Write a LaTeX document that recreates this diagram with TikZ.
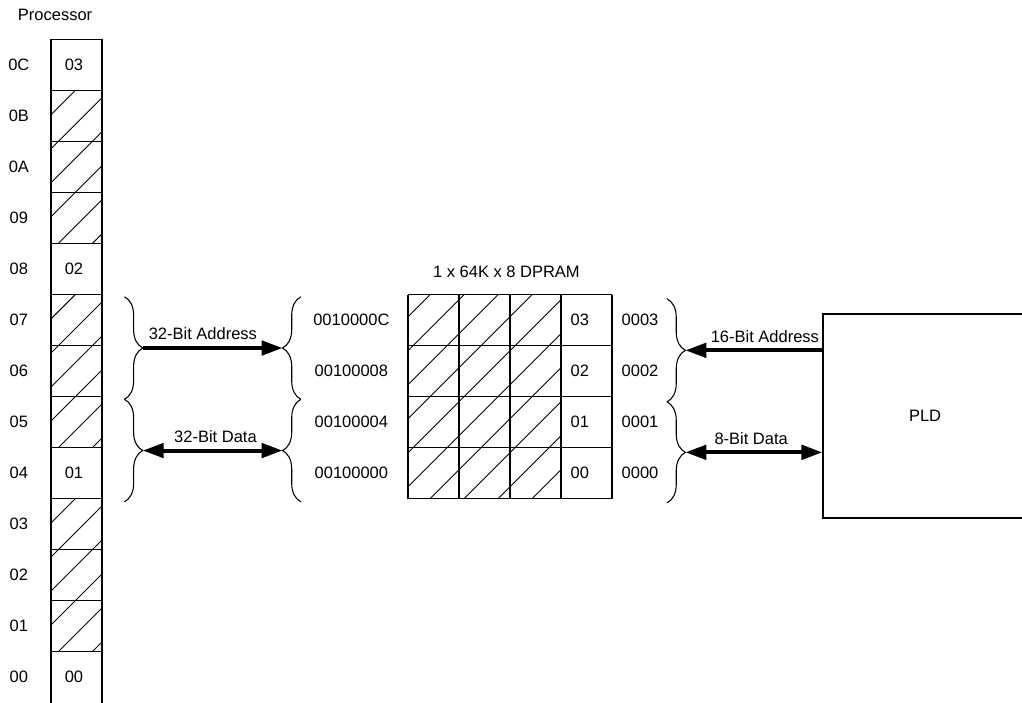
\documentclass[tikz,border=0pt]{standalone}
\usepackage{fontspec}
\setmainfont{Liberation Sans}
\usetikzlibrary{arrows.meta,decorations.pathreplacing}

\tikzset{
	frame/.style={line width=0.8pt},
	hatch/.style={line width=0.5pt},
	curly/.style={decorate, decoration={brace, amplitude=0.36cm}, line width=0.6pt},
	bus/.style={line width=2.2pt, -{Triangle[length=4.1mm, width=2.8mm]}},
	dbus/.style={bus, {Triangle[length=4.1mm, width=2.8mm]}-{Triangle[length=4.1mm, width=2.8mm]}},
}

\begin{document}
\begin{tikzpicture}[font=\fontsize{9.2}{11}\selectfont]
	\useasboundingbox (0,0) rectangle (20.04,13.78);

	% processor memory column
	\begin{scope}
		\clip (1,1) rectangle (2,4) (1,5) rectangle (2,8) (1,9) rectangle (2,12);
		\foreach \y in {0.19,0.857,...,12} \draw[hatch] (1,\y) -- ++(1,1);
	\end{scope}
	\draw[frame] (1,-0.2) -- (1,13) -- (2,13) -- (2,-0.2);
	\foreach \r in {1,...,12} \draw[frame] (1,\r) -- (2,\r);
	\foreach \r/\a in {0/00,1/01,2/02,3/03,4/04,5/05,6/06,7/07,8/08,9/09,10/0A,11/0B,12/0C}
		\node (addr\r) at (0.37,\r+0.5) {\a};
	\node at (1.08,13.49) (proc) {Processor};
	\node at (1.45,12.5) (byte3) {03};
	\node at (1.45,8.5) (byte2) {02};
	\node at (1.45,4.5) (byte1) {01};
	\node at (1.45,0.5) (byte0) {00};

	% DPRAM block
	\begin{scope}
		\clip (8,4) rectangle (11,8);
		\foreach \y in {1.567,2.234,...,8} \draw[hatch] (8,\y) -- ++(3,3);
	\end{scope}
	\draw[frame, step=1] (8,4) grid (12,8);
	\node at (9.93,8.45) (dpram) {1 x 64K x 8 DPRAM};
	\foreach \r/\b/\w/\h in {7/03/0010000C/0003, 6/02/00100008/0002, 5/01/00100004/0001, 4/00/00100000/0000} {
		\node (cell\r) at (11.37,\r+0.5) {\b};
		\node (wide\r) at (6.89,\r+0.5) {\w};
		\node (half\r) at (12.55,\r+0.5) {\h};
	}

	% PLD
	\node[draw, frame, minimum size=4cm] at (18.14,5.62) (pld) {PLD};

	% braces
	\draw[curly] (2.44,7.96) -- (2.44,5.95); %proc address
	\draw[curly] (2.44,5.95) -- (2.44,3.94); %proc data
	\draw[curly] (5.9,5.95) -- (5.9,7.96); %dpram address
	\draw[curly] (5.9,3.94) -- (5.9,5.95); %dpram data
	\draw[curly] (13.08,7.92) -- (13.08,5.9); %pld address
	\draw[curly] (13.08,5.9) -- (13.08,3.92); %pld data

	\coordinate (adrL) at (2.80,6.955);
	\coordinate (datL) at (2.80,4.945);
	\coordinate (adrM) at (5.54,6.955);
	\coordinate (datM) at (5.54,4.945);
	\coordinate (adrR) at (13.44,6.91);
	\coordinate (datR) at (13.44,4.91);

	% buses
	\draw[bus] (adrL) -- (adrM) node[pos=0.43, above] (bus32a) {32-Bit Address};
	\draw[dbus] (datL) -- (datM) node[pos=0.52, above] (bus32d) {32-Bit Data};
	\draw[bus] (pld.west |- adrR) -- (adrR) node[pos=0.42, above] (bus16a) {16-Bit Address};
	\draw[dbus] (datR) -- (pld.west |- datR) node[pos=0.48, above] (bus8d) {8-Bit Data};
\end{tikzpicture}
\end{document}
